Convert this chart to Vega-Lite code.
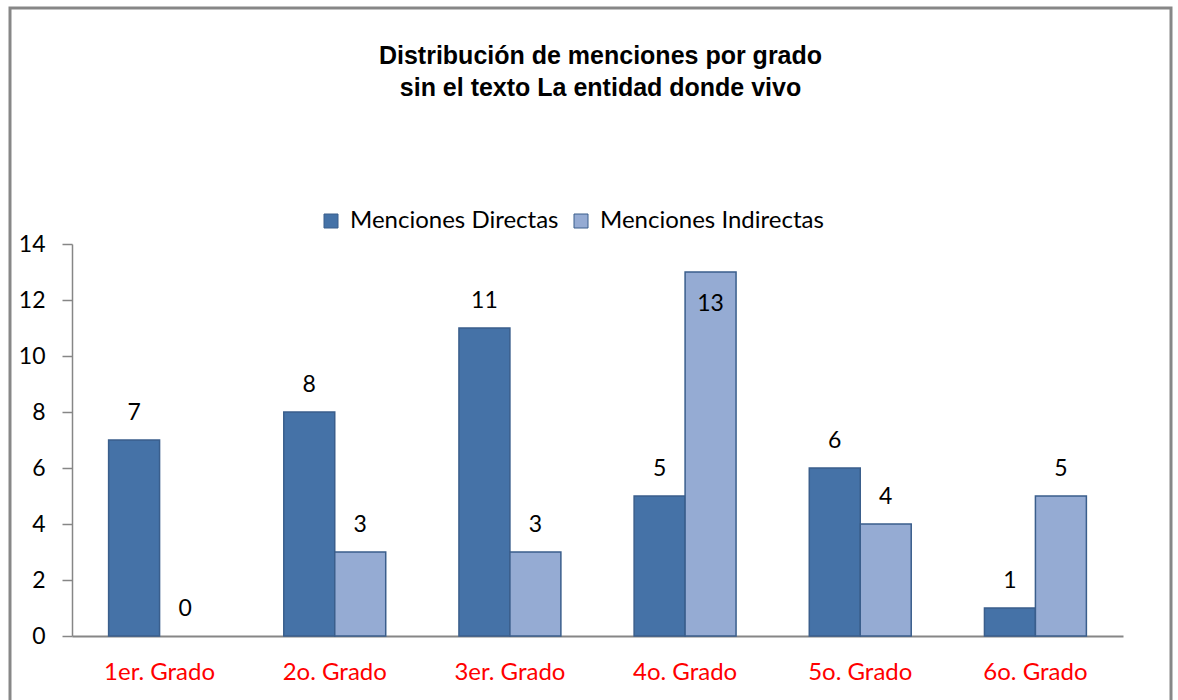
{
  "$schema": "https://vega.github.io/schema/vega-lite/v6.json",
  "autosize": {"type": "none"},
  "padding": {"left": 10, "top": 8, "right": 7, "bottom": 0},
  "width": 1161,
  "height": 720,
  "background": "white",
  "title": {
    "text": ["Distribución de menciones por grado", "sin el texto La entidad donde vivo"],
    "font": "Liberation Sans",
    "fontSize": 25,
    "fontWeight": "bold",
    "color": "black",
    "anchor": "middle",
    "baseline": "top",
    "lineHeight": 32,
    "offset": -93,
    "dx": 10
  },
  "data": {
    "values": [
      {"grado": "1er. Grado", "serie": "Menciones Directas", "valor": 7},
      {"grado": "1er. Grado", "serie": "Menciones Indirectas", "valor": 0},
      {"grado": "2o. Grado", "serie": "Menciones Directas", "valor": 8},
      {"grado": "2o. Grado", "serie": "Menciones Indirectas", "valor": 3},
      {"grado": "3er. Grado", "serie": "Menciones Directas", "valor": 11},
      {"grado": "3er. Grado", "serie": "Menciones Indirectas", "valor": 3},
      {"grado": "4o. Grado", "serie": "Menciones Directas", "valor": 5},
      {"grado": "4o. Grado", "serie": "Menciones Indirectas", "valor": 13},
      {"grado": "5o. Grado", "serie": "Menciones Directas", "valor": 6},
      {"grado": "5o. Grado", "serie": "Menciones Indirectas", "valor": 4},
      {"grado": "6o. Grado", "serie": "Menciones Directas", "valor": 1},
      {"grado": "6o. Grado", "serie": "Menciones Indirectas", "valor": 5}
    ]
  },
  "encoding": {
    "x": {
      "field": "grado",
      "type": "nominal",
      "sort": null,
      "scale": {"range": [62, 1113], "paddingInner": 0.418, "paddingOuter": 0.209},
      "axis": {
        "title": null,
        "orient": "bottom",
        "offset": -92,
        "labelAngle": 0,
        "labelFont": "Lato",
        "labelFontSize": 24,
        "labelColor": "#FF0000",
        "labelPadding": 24,
        "labelBaseline": "top",
        "ticks": false,
        "domainColor": "#868686",
        "domainWidth": 2,
        "grid": false
      }
    },
    "xOffset": {
      "field": "serie",
      "type": "nominal",
      "sort": ["Menciones Directas", "Menciones Indirectas"]
    },
    "y": {
      "field": "valor",
      "type": "quantitative",
      "scale": {"domain": [0, 14], "range": [628, 236], "nice": false, "zero": true},
      "axis": {
        "title": null,
        "orient": "left",
        "offset": -62,
        "values": [0, 2, 4, 6, 8, 10, 12, 14],
        "labelFont": "Lato",
        "labelFontSize": 23,
        "labelColor": "black",
        "labelPadding": 17,
        "tickSize": 10,
        "tickColor": "#868686",
        "tickWidth": 1.5,
        "domainColor": "#868686",
        "domainWidth": 1.5,
        "grid": false
      }
    }
  },
  "layer": [
    {
      "mark": {"type": "bar", "stroke": "#3A5E8C", "strokeWidth": 1.5},
      "encoding": {
        "strokeOpacity": {"condition": {"test": "datum.valor == 0", "value": 0}, "value": 1},
        "color": {
          "field": "serie",
          "type": "nominal",
          "scale": {
            "domain": ["Menciones Directas", "Menciones Indirectas"],
            "range": ["#4572A7", "#95ABD3"]
          },
          "legend": {
            "title": null,
            "orient": "none",
            "direction": "horizontal",
            "legendX": 309,
            "legendY": 201,
            "padding": 0,
            "symbolType": "square",
            "symbolSize": 196,
            "symbolStrokeColor": "#3A5E8C",
            "symbolStrokeWidth": 1,
            "labelFont": "Lato",
            "labelFontSize": 24,
            "labelColor": "black",
            "labelLimit": 400,
            "labelOffset": 7,
            "columnPadding": 10
          }
        }
      }
    },
    {
      "transform": [{"filter": "datum.valor < 13"}],
      "mark": {"type": "text", "font": "Lato", "fontSize": 23, "color": "black", "baseline": "middle", "dy": -27},
      "encoding": {"text": {"field": "valor", "type": "quantitative"}}
    },
    {
      "transform": [{"filter": "datum.valor >= 13"}],
      "mark": {"type": "text", "font": "Lato", "fontSize": 23, "color": "black", "baseline": "middle", "dy": 32},
      "encoding": {"text": {"field": "valor", "type": "quantitative"}}
    }
  ],
  "config": {
    "view": {"stroke": "#878787", "strokeWidth": 3}
  }
}
